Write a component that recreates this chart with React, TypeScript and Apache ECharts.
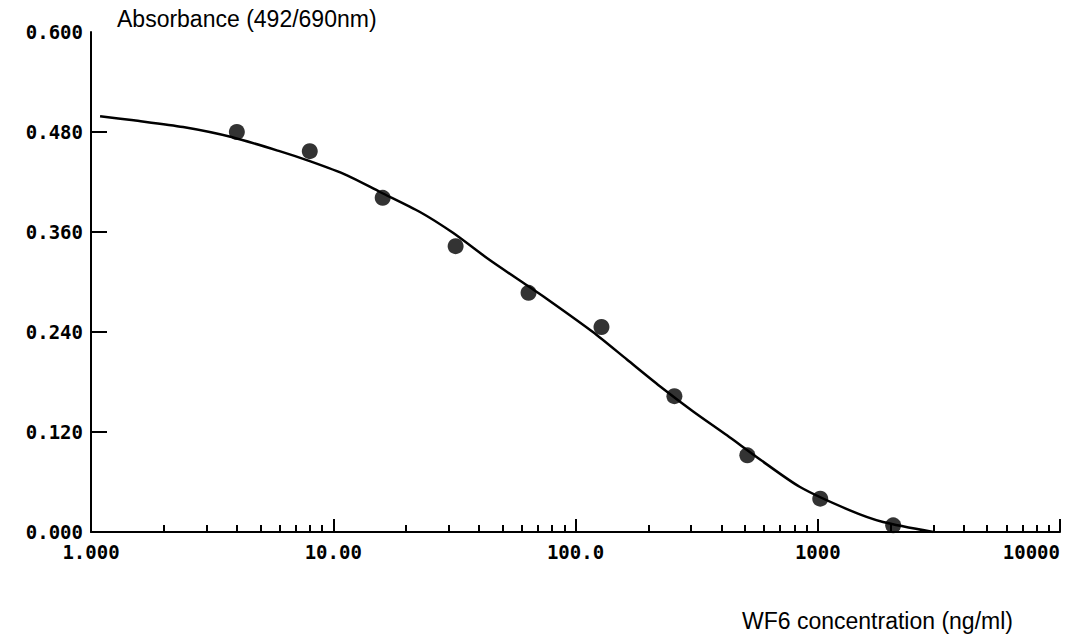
import React, { useEffect, useRef } from "react";
import * as echarts from "echarts";

// Measured points (concentration ng/ml, absorbance)
const pointConc = [4, 8, 16, 32, 64, 128, 256, 512, 1024, 2048];
const pointAbs = [0.48, 0.457, 0.401, 0.343, 0.287, 0.246, 0.163, 0.092, 0.04, 0.008];

// Fitted curve
const curveConc = [1.09, 1.5, 2.4, 3.8, 6.0, 8.0, 11.4, 15.6, 22.8, 31.2, 44.4, 63, 76, 118, 163, 223, 305, 422, 578, 845, 1358, 1860, 3000];
const curveAbs = [0.499, 0.494, 0.486, 0.474, 0.457, 0.445, 0.428, 0.408, 0.384, 0.359, 0.326, 0.296, 0.28, 0.24, 0.207, 0.175, 0.145, 0.116, 0.087, 0.054, 0.026, 0.012, 0.0];

const xTickValues = [1, 10, 100, 1000, 10000];
const xTickLabels = ["1.000", "10.00", "100.0", "1000", "10000"];
const xMinorTicks = [2, 3, 4, 5, 6, 7, 8, 9, 20, 30, 40, 50, 60, 70, 80, 90, 200, 300, 400, 500, 600, 700, 800, 900, 2000, 3000, 4000, 5000, 6000, 7000, 8000, 9000];
const yTickValues = [0.12, 0.24, 0.36, 0.48];

const yTitle = "Absorbance (492/690nm)";
const xTitle = "WF6 concentration (ng/ml)";

const labelFont = {
  fontFamily: "DejaVu Sans Mono",
  fontWeight: "bold" as const,
  fontSize: 19,
  color: "#000",
};

export default function App() {
  const ref = useRef<HTMLDivElement>(null);
  useEffect(() => {
    if (!ref.current) return;
    const chart = echarts.init(ref.current, null, { renderer: "svg" });
    const fmtX = (v: number) => {
      const i = xTickValues.findIndex((t) => Math.abs(t - v) / t < 1e-6);
      return i >= 0 ? xTickLabels[i] : "";
    };
    chart.setOption({
      animation: false,
      backgroundColor: "#fff",
      grid: { left: 91, right: 17, top: 32, bottom: 109, containLabel: false },
      xAxis: [
        {
          type: "log",
          logBase: 10,
          min: 1,
          max: 10000,
          axisLine: { show: true, lineStyle: { color: "#000", width: 2 } },
          axisTick: {
            show: true,
            inside: true,
            length: 13,
            customValues: xTickValues.slice(1),
            lineStyle: { color: "#000", width: 2 },
          },
          axisLabel: {
            ...labelFont,
            margin: 10,
            formatter: fmtX,
            alignMaxLabel: "right",
          },
          splitLine: { show: false },
          minorTick: { show: false },
        },
        {
          type: "log",
          logBase: 10,
          min: 1,
          max: 10000,
          position: "bottom",
          axisLine: { show: false },
          axisTick: {
            show: true,
            inside: true,
            length: 7,
            customValues: xMinorTicks,
            lineStyle: { color: "#000", width: 2 },
          },
          axisLabel: { show: false },
          splitLine: { show: false },
        },
      ],
      yAxis: {
        type: "value",
        min: 0,
        max: 0.6,
        interval: 0.12,
        axisLine: { show: true, lineStyle: { color: "#000", width: 2 } },
        axisTick: {
          show: true,
          inside: true,
          length: 16,
          customValues: yTickValues,
          lineStyle: { color: "#000", width: 2 },
        },
        axisLabel: {
          ...labelFont,
          margin: 8,
          formatter: (v: number) => v.toFixed(3),
        },
        splitLine: { show: false },
      },
      graphic: [
        {
          type: "text",
          left: 117,
          top: 7,
          style: { text: yTitle, font: '23px "Liberation Sans"', fill: "#000" },
        },
        {
          type: "text",
          left: 742,
          top: 609,
          style: { text: xTitle, font: '23px "Liberation Sans"', fill: "#000" },
        },
      ],
      series: [
        {
          type: "line",
          name: "fit",
          data: curveConc.map((c, i) => [c, curveAbs[i]]),
          smooth: 0.25,
          showSymbol: false,
          lineStyle: { color: "#000", width: 2.5 },
          z: 2,
        },
        {
          type: "scatter",
          name: "data",
          data: pointConc.map((c, i) => [c, pointAbs[i]]),
          symbol: "circle",
          symbolSize: 16,
          itemStyle: { color: "#000" },
          z: 3,
        },
      ],
    });
    return () => chart.dispose();
  }, []);
  return (
    <div
      ref={ref}
      style={{ position: "fixed", left: 0, top: 0, width: 1077, height: 641, background: "#fff" }}
    />
  );
}
